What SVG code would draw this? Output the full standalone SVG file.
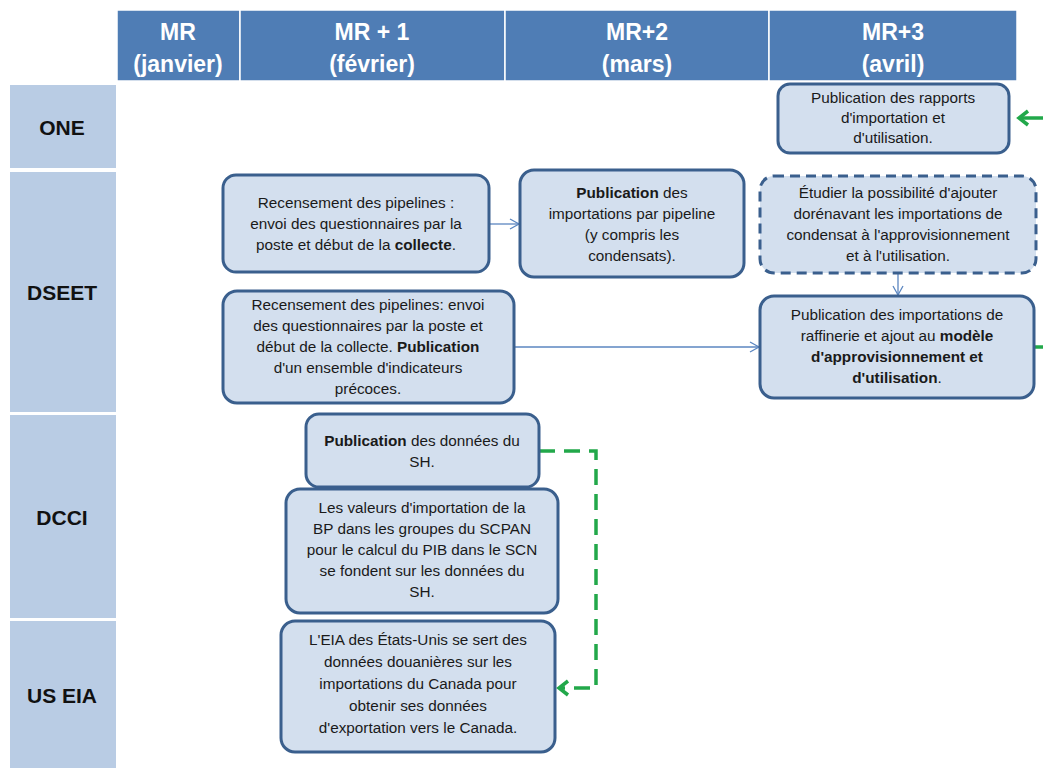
<svg xmlns="http://www.w3.org/2000/svg" width="1043" height="768" viewBox="0 0 1043 768">
<defs>
<style>
.hdr{fill:#4F7DB5;stroke:#ffffff;stroke-width:1.5}
.hdrt{font-family:"Liberation Sans",Arial,sans-serif;font-weight:bold;font-size:23px;fill:#ffffff;text-anchor:middle}
.lane{fill:#B9CCE4}
.lanet{font-family:"Liberation Sans",Arial,sans-serif;font-weight:bold;font-size:21px;fill:#111111;text-anchor:middle}
.box{fill:#D3DFEE;stroke:#3A5F8D;stroke-width:3}
.dash{stroke-dasharray:10 6}
.bt{font-family:"Liberation Sans",Arial,sans-serif;font-size:15.3px;fill:#1a1a1a;text-anchor:middle}
.b{font-weight:bold}
.blue{fill:none;stroke:#5B86C0;stroke-width:1.3}
.green{fill:none;stroke:#22A84A;stroke-width:3.5}
</style>
<marker id="openBlue" markerWidth="12" markerHeight="12" refX="10" refY="6" orient="auto" markerUnits="userSpaceOnUse">
<path d="M1,1 L10,6 L1,11" fill="none" stroke="#5B86C0" stroke-width="1.3"/>
</marker>
<marker id="openGreen" markerWidth="16" markerHeight="18" refX="12" refY="9" orient="auto" markerUnits="userSpaceOnUse">
<path d="M3,2 L12,9 L3,16" fill="none" stroke="#22A84A" stroke-width="3.5"/>
</marker>
</defs>
<rect width="1043" height="768" fill="#ffffff"/>
<g id="header">
<rect class="hdr" x="117" y="10" width="123" height="71"/>
<rect class="hdr" x="240" y="10" width="265" height="71"/>
<rect class="hdr" x="505" y="10" width="264" height="71"/>
<rect class="hdr" x="769" y="10" width="248" height="71"/>
<text class="hdrt" x="178" y="40">MR</text><text class="hdrt" x="178" y="72">(janvier)</text>
<text class="hdrt" x="372" y="40">MR + 1</text><text class="hdrt" x="372" y="72">(février)</text>
<text class="hdrt" x="637" y="40">MR+2</text><text class="hdrt" x="637" y="72">(mars)</text>
<text class="hdrt" x="893" y="40">MR+3</text><text class="hdrt" x="893" y="72">(avril)</text>
</g>
<g id="lanes">
<g id="lane-one"><rect class="lane" x="10" y="85" width="106" height="83"/><text class="lanet" x="62" y="135">ONE</text></g>
<g id="lane-dseet"><rect class="lane" x="10" y="172" width="106" height="240"/><text class="lanet" x="62" y="300">DSEET</text></g>
<g id="lane-dcci"><rect class="lane" x="10" y="415" width="106" height="203"/><text class="lanet" x="62" y="525">DCCI</text></g>
<g id="lane-useia"><rect class="lane" x="10" y="621" width="106" height="150"/><text class="lanet" x="62" y="703">US EIA</text></g>
</g>
<g id="connectors">
<line class="blue" x1="489" y1="224" x2="519" y2="224" marker-end="url(#openBlue)"/>
<line class="blue" x1="514" y1="347" x2="759" y2="347" marker-end="url(#openBlue)"/>
<line class="blue" x1="898" y1="274" x2="898" y2="295" marker-end="url(#openBlue)"/>
<path class="green" d="M539,451 H596 V688 H559" stroke-dasharray="16 9" marker-end="url(#openGreen)"/>
<path class="green" d="M1043,118 H1019" marker-end="url(#openGreen)"/>
<path class="green" d="M1035,347 H1043"/>
</g>
<g id="n-one">
<rect class="box" x="778" y="84" width="231" height="69" rx="12"/>
<text class="bt" x="893" y="103">Publication des rapports</text>
<text class="bt" x="893" y="123">d'importation  et</text>
<text class="bt" x="893" y="143">d'utilisation.</text>
</g>
<g id="n-a">
<rect class="box" x="223" y="175" width="266" height="97" rx="13"/>
<text class="bt" x="356" y="208">Recensement des pipelines :</text>
<text class="bt" x="356" y="229">envoi des questionnaires par la</text>
<text class="bt" x="356" y="250">poste et début de la <tspan class="b">collecte</tspan>.</text>
</g>
<g id="n-b">
<rect class="box" x="520" y="170" width="224" height="107" rx="14"/>
<text class="bt" x="632" y="198"><tspan class="b">Publication</tspan> des</text>
<text class="bt" x="632" y="219">importations par pipeline</text>
<text class="bt" x="632" y="240">(y compris les</text>
<text class="bt" x="632" y="261">condensats).</text>
</g>
<g id="n-c">
<rect class="box dash" x="760" y="176" width="276" height="97" rx="14"/>
<text class="bt" x="898" y="198">Étudier la possibilité d'ajouter</text>
<text class="bt" x="898" y="219">dorénavant  les importations  de</text>
<text class="bt" x="898" y="240">condensat à l'approvisionnement</text>
<text class="bt" x="898" y="261">et à l'utilisation.</text>
</g>
<g id="n-d">
<rect class="box" x="223" y="291" width="291" height="112" rx="14"/>
<text class="bt" x="368" y="310">Recensement des pipelines: envoi</text>
<text class="bt" x="368" y="331">des questionnaires par la poste et</text>
<text class="bt" x="368" y="352">début de la collecte. <tspan class="b">Publication</tspan></text>
<text class="bt" x="368" y="373">d'un ensemble d'indicateurs</text>
<text class="bt" x="368" y="394">précoces.</text>
</g>
<g id="n-e">
<rect class="box" x="760" y="296" width="274" height="102" rx="14"/>
<text class="bt" x="897" y="320">Publication des importations  de</text>
<text class="bt" x="897" y="341">raffinerie et ajout au <tspan class="b">modèle</tspan></text>
<text class="bt b" x="897" y="362">d'approvisionnement et</text>
<text class="bt b" x="897" y="383">d'utilisation<tspan style="font-weight:normal">.</tspan></text>
</g>
<g id="n-f">
<rect class="box" x="306" y="414" width="233" height="73" rx="13"/>
<text class="bt" x="422" y="446"><tspan class="b">Publication</tspan> des données du</text>
<text class="bt" x="422" y="467">SH.</text>
</g>
<g id="n-g">
<rect class="box" x="286" y="489" width="272" height="124" rx="14"/>
<text class="bt" x="422" y="513">Les valeurs d'importation  de la</text>
<text class="bt" x="422" y="534">BP dans les groupes du SCPAN</text>
<text class="bt" x="422" y="555">pour  le calcul du PIB dans le SCN</text>
<text class="bt" x="422" y="576">se fondent  sur les données du</text>
<text class="bt" x="422" y="597">SH.</text>
</g>
<g id="n-h">
<rect class="box" x="281" y="621" width="274" height="131" rx="14"/>
<text class="bt" x="418" y="645">L'EIA des États-Unis se sert des</text>
<text class="bt" x="418" y="667">données douanières  sur les</text>
<text class="bt" x="418" y="689">importations  du  Canada pour</text>
<text class="bt" x="418" y="711">obtenir ses données</text>
<text class="bt" x="418" y="733">d'exportation  vers le Canada.</text>
</g>
</svg>
